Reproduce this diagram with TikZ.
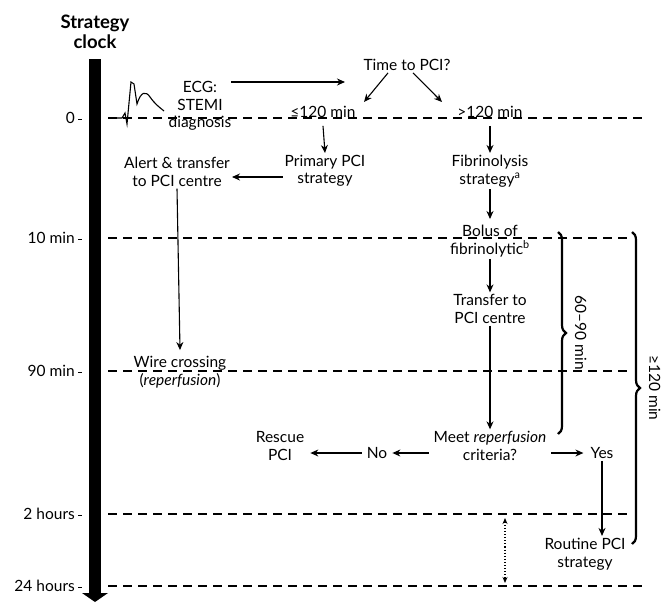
\documentclass[tikz,border=0pt]{standalone}
\usepackage{fontspec}
\setmainfont{Lato}
\usetikzlibrary{arrows.meta,decorations.pathreplacing}

\tikzset{
    txt/.style={align=center, inner sep=2pt, font=\fontsize{15.5}{17.5}\selectfont},
    arr/.style={-{Stealth[length=8pt,width=7pt]}, line width=1.1pt},
    tline/.style={line width=1.3pt, dash pattern=on 9pt off 6pt},
    brc/.style={decorate, decoration={brace, amplitude=8pt}, line width=2.2pt},
}

\begin{document}
\begin{tikzpicture}[x=1pt, y=-1pt]
    \useasboundingbox (0,0) rectangle (668,602);

    % strategy clock
    \node[txt, font=\bfseries\fontsize{18.5}{20}\selectfont] (title) at (95,32) {Strategy\\clock};
    \fill (89,59) rectangle (101,593);
    \fill (82,593) -- (108,593) -- (95,602) -- cycle;
    \foreach \y/\lab/\xe in {118/0/645, 238/10 min/630, 371/90 min/630, 514/2 hours/630, 586/24 hours/643} {
        \node[txt, anchor=east] (lab\y) at (77,\y) {\lab};
        \draw[line width=1.1pt] (lab\y.east) ++(1,1.5) -- ++(4,0);
        \draw[tline] (108,\y) -- (\xe,\y);
    }

    % ECG trace
    \draw[line width=1.1pt] (108,118) -- (122,118) -- (125,113) -- (127,124) -- (131,82) -- (134,84)
        -- (137,104) .. controls (141,91) and (146,91) .. (150,97) .. controls (155,104) and (159,107) .. (164,111);

    \node[txt] (ecg) at (200,106) {ECG:\\STEMI\\diagnosis};
    \node[txt] (time) at (407,65) {Time to PCI?};
    \node[txt] (le) at (323,112) {≤120 min};
    \node[txt] (gt) at (490,112) {>120 min};
    \node[txt] (pri) at (325,171) {Primary PCI\\strategy};
    \node[txt] (alert) at (177,172) {Alert \& transfer\\to PCI centre};
    \node[txt] (wire) at (180,372) {Wire crossing\\(\textit{reperfusion})};
    \node[txt] (fib) at (490,171) {Fibrinolysis\\strategy\textsuperscript{a}};
    \node[txt] (bolus) at (490,241) {Bolus of\\fibrinolytic\textsuperscript{b}};
    \node[txt] (transfer) at (490,309) {Transfer to\\PCI centre};
    \node[txt] (meet) at (490,446) {Meet \textit{reperfusion}\\criteria?};
    \node[txt] (no) at (377,453) {No};
    \node[txt] (rescue) at (280,446) {Rescue\\PCI};
    \node[txt] (yes) at (602,453) {Yes};
    \node[txt] (routine) at (585,554) {Routine PCI\\strategy};

    \coordinate (ecgout) at (231,82);
    \coordinate (timein) at (345,82);
    \draw[arr] (ecgout) -- (timein);
    \draw[arr] ([xshift=-19pt]time.south) -- (364,102);
    \draw[arr] ([xshift=6pt]time.south) -- (442,102);
    \draw[arr] (le.south) ++(0,6) -- (pri.north);
    \draw[arr] (pri.west |- 0,177) -- (alert.east |- 0,177);
    \draw[arr] (alert.south) -- ([yshift=4pt]wire.north);
    \draw[arr] (gt.south) ++(0,6) -- (fib.north);
    \draw[arr] (fib.south) -- ([yshift=4pt]bolus.north);
    \draw[arr] (bolus.south) -- (transfer.north);
    \draw[arr] (transfer.south) -- (meet.north);
    \draw[arr] ([xshift=-3pt]meet.west |- no) -- ([xshift=3pt]no.east);
    \draw[arr] ([xshift=-3pt]no.west) -- ([xshift=4pt]rescue.east |- no);
    \draw[arr] ([xshift=3pt]meet.east |- yes) -- ([xshift=-5pt]yes.west);
    \draw[arr] (yes.south) -- (yes.south |- routine.north);

    % interval between 2 hours and 24 hours
    \coordinate (dtop) at (505,518);
    \coordinate (dbot) at (505,583);
    \draw[{Stealth[length=6pt,width=5pt]}-{Stealth[length=6pt,width=5pt]}, line width=1.1pt, dotted] (dtop) -- (dbot);

    % braces
    \draw[brc] (558,232) -- (558,434) node[midway, right=14pt, rotate=-90, anchor=south, txt] (b1) {60--90 min};
    \draw[brc] (632,232) -- (632,544) node[midway, right=14pt, rotate=-90, anchor=south, txt] (b2) {≥120 min};
\end{tikzpicture}
\end{document}
